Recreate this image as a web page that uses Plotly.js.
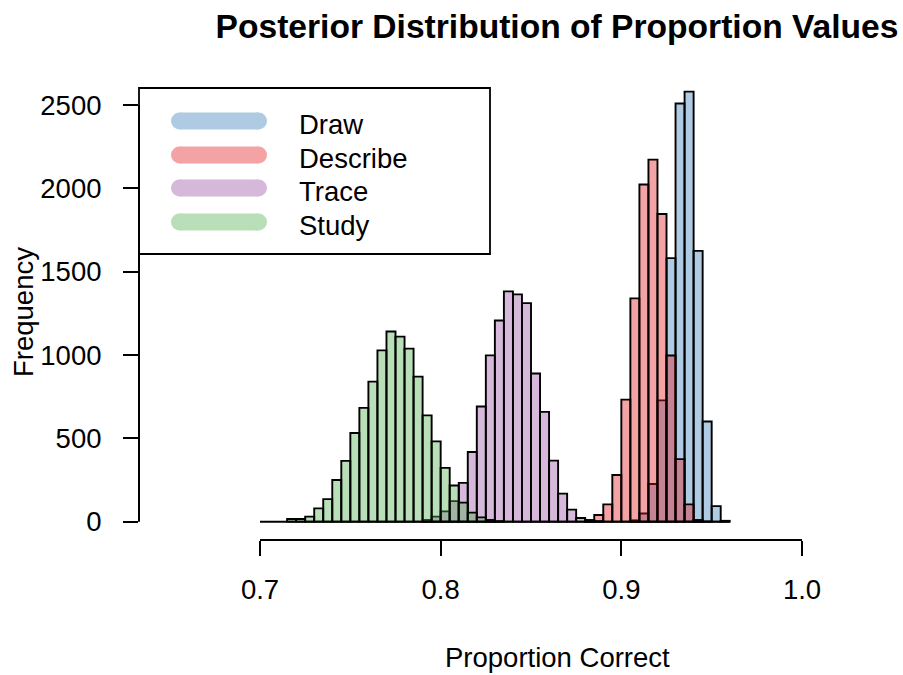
<!DOCTYPE html>
<html>
<head>
<meta charset="utf-8">
<script src="https://cdn.plot.ly/plotly-3.0.1.min.js"></script>
<style>
html,body{margin:0;padding:0;background:#fff;}
#chart{width:903px;height:675px;}
</style>
</head>
<body>
<div id="chart"></div>
<script>
// ---- data (histogram bins of width 0.005, counts) ----
const binWidth = 0.005;
const breakRange = [0.70, 0.96];
const seriesNames = ["Draw", "Describe", "Trace", "Study"];

const drawFirstBin = 0.905;
const drawCounts = [8, 49, 226, 728, 1581, 2509, 2580, 1625, 601, 93, 5];

const describeFirstBin = 0.880;
const describeCounts = [3, 40, 104, 280, 732, 1340, 2023, 2172, 1846, 997, 375, 104, 10, 1];

const traceFirstBin = 0.790;
const traceCounts = [10, 30, 62, 123, 233, 418, 691, 998, 1207, 1382, 1364, 1311, 889, 659, 366, 168, 72, 22, 10, 3];

const studyFirstBin = 0.715;
const studyCounts = [16, 16, 30, 80, 135, 250, 365, 532, 683, 840, 1028, 1141, 1110, 1038, 870, 638, 482, 323, 217, 114, 54, 26, 10, 3];

const xTickVals = [0.7, 0.8, 0.9, 1.0];
const xTickText = ["0.7", "0.8", "0.9", "1.0"];
const yTickVals = [0, 500, 1000, 1500, 2000, 2500];

// ---- styles ----
const FONT = "'Liberation Sans', Arial, sans-serif";
const fillColors = ["rgba(55,126,184,0.4)", "rgba(228,26,28,0.4)", "rgba(152,78,163,0.4)", "rgba(77,175,74,0.4)"];
const legendColors = ["rgb(175,203,227)", "rgb(244,163,164)", "rgb(214,184,218)", "rgb(184,223,183)"];

const L = 139, R = 903, T = 88, B = 540;
const W = R - L, H = B - T;
const px = v => (v - L) / W;
const py = v => (B - v) / H;

const firstBins = [drawFirstBin, describeFirstBin, traceFirstBin, studyFirstBin];
const countsList = [drawCounts, describeCounts, traceCounts, studyCounts];

const traces = [];
countsList.forEach((counts, k) => {
  const x = counts.map((c, i) => firstBins[k] + (i + 0.5) * binWidth);
  traces.push({
    type: "bar",
    name: seriesNames[k],
    x: x,
    y: counts,
    width: counts.map(() => binWidth),
    marker: {color: fillColors[k], line: {color: "#000", width: 1.9}},
    showlegend: false,
    hoverinfo: "x+y"
  });
});
traces.push({
  type: "scatter", mode: "lines",
  x: breakRange, y: [0, 0],
  line: {color: "#000", width: 2},
  showlegend: false, hoverinfo: "skip"
});

const shapes = [
  // detached x axis line
  {type: "line", xref: "x", yref: "paper", x0: xTickVals[0], x1: xTickVals[xTickVals.length - 1], y0: 0, y1: 0, line: {color: "#000", width: 2}},
  // detached y axis line
  {type: "line", xref: "paper", yref: "y", x0: 0, x1: 0, y0: yTickVals[0], y1: yTickVals[yTickVals.length - 1], line: {color: "#000", width: 2}},
  // legend box
  {type: "rect", xref: "paper", yref: "paper", x0: px(139), x1: px(490), y0: py(254), y1: py(88), line: {color: "#000", width: 1.8}, fillcolor: "#fff", layer: "below"}
];

const annotations = [];
const legendY = [121, 155, 188, 222];
const capR = 8.5, lx0 = 171, lx1 = 267;
seriesNames.forEach((name, k) => {
  const yc = legendY[k];
  shapes.push({type: "rect", xref: "paper", yref: "paper", x0: px(lx0 + capR), x1: px(lx1 - capR), y0: py(yc + capR), y1: py(yc - capR), line: {width: 0}, fillcolor: legendColors[k]});
  shapes.push({type: "circle", xref: "paper", yref: "paper", x0: px(lx0), x1: px(lx0 + 2 * capR), y0: py(yc + capR), y1: py(yc - capR), line: {width: 0}, fillcolor: legendColors[k]});
  shapes.push({type: "circle", xref: "paper", yref: "paper", x0: px(lx1 - 2 * capR), x1: px(lx1), y0: py(yc + capR), y1: py(yc - capR), line: {width: 0}, fillcolor: legendColors[k]});
  annotations.push({xref: "paper", yref: "paper", x: px(297), y: py(yc + 3), xanchor: "left", yanchor: "middle", text: name, showarrow: false, font: {family: FONT, size: 27.5, color: "#000"}});
});

annotations.push({xref: "paper", yref: "paper", x: px(557), y: py(657), xanchor: "center", yanchor: "middle", text: "Proportion Correct", showarrow: false, font: {family: FONT, size: 27.5, color: "#000"}});
annotations.push({xref: "paper", yref: "paper", x: px(23), y: py(312), xanchor: "center", yanchor: "middle", textangle: -90, text: "Frequency", showarrow: false, font: {family: FONT, size: 27.5, color: "#000"}});

const layout = {
  width: 903, height: 675,
  margin: {l: L, r: 903 - R, t: T, b: 675 - B, pad: 0},
  paper_bgcolor: "#fff", plot_bgcolor: "#fff",
  barmode: "overlay",
  bargap: 0,
  title: {text: "<b>Posterior Distribution of Proportion Values</b>", x: px(557), xref: "paper", xanchor: "center", y: 1 - 26 / 675, yref: "container", yanchor: "middle", font: {family: FONT, size: 33.6, color: "#000"}},
  xaxis: {range: [0.7 - 121 / 1806.7, 0.7 - 121 / 1806.7 + W / 1806.7], tickvals: xTickVals, ticktext: xTickText, ticks: "outside", ticklen: 15, tickwidth: 2, tickcolor: "#000", showline: false, zeroline: false, showgrid: false, ticklabelstandoff: 10, tickfont: {family: FONT, size: 27.5, color: "#000"}, fixedrange: true},
  yaxis: {range: [-110, 2602], tickvals: yTickVals, ticks: "outside", ticklen: 15, tickwidth: 2, tickcolor: "#000", showline: false, zeroline: false, showgrid: false, ticklabelstandoff: 16, tickfont: {family: FONT, size: 27.5, color: "#000"}, fixedrange: true},
  shapes: shapes,
  annotations: annotations,
  showlegend: false
};

Plotly.newPlot("chart", traces, layout, {displayModeBar: false, staticPlot: true});
</script>
</body>
</html>
